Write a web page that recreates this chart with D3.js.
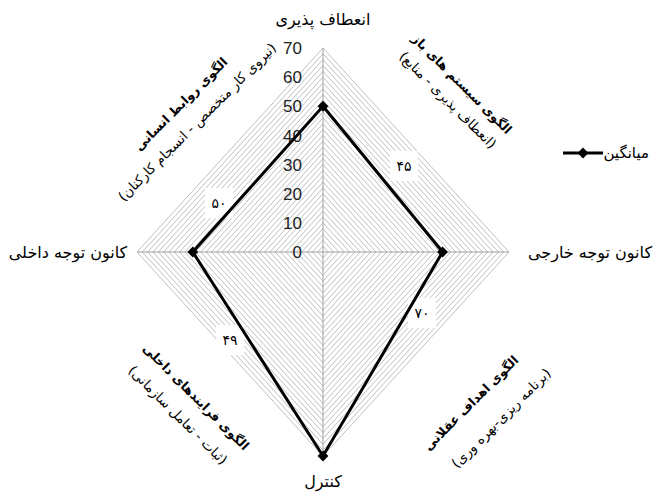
<!DOCTYPE html>
<html>
<head>
<meta charset="utf-8">
<script src="https://cdn.jsdelivr.net/npm/d3@7"></script>
<style>
  html, body { margin: 0; padding: 0; background: #fff; }
  svg { display: block; }
</style>
</head>
<body>
<svg id="chart" width="660" height="493"></svg>
<script>
(function () {
  "use strict";

  // data
  const axisNames = ["انعطاف پذیری", "کانون توجه خارجی", "کنترل", "کانون توجه داخلی"];
  const meanValues = [50, 45, 70, 49];
  const tickValues = [0, 10, 20, 30, 40, 50, 60, 70];
  const gridStep = 2;
  const seriesName = "میانگین";
  const quadTitles = ["الگوی سیستم های باز", "الگوی اهداف عقلانی", "الگوی فرایندهای داخلی", "الگوی روابط انسانی"];
  const quadSubs = ["(انعطاف پذیری - منابع)", "(برنامه ریزی-بهره وری)", "(ثبات - تعامل سازمانی)", "(نیروی کار متخصص - انسجام کارکنان)"];
  const quadScores = ["۴۵", "۷۰", "۴۹", "۵۰"];

  // layout
  const cx = 323, cy = 252;
  const rx = d3.scaleLinear().domain([0, 70]).range([0, 186]);
  const ry = d3.scaleLinear().domain([0, 70]).range([0, 204]);
  const dirs = [[0, -1], [1, 0], [0, 1], [-1, 0]];
  const quadLayout = [
    { t: [462, 84], s: [448, 100], rot: 45, box: [404, 166] },
    { t: [471, 403], s: [501, 418], rot: -45, box: [422, 313] },
    { t: [196, 397], s: [178, 415], rot: 45, box: [230, 340] },
    { t: [181, 104], s: [197, 122], rot: -45, box: [219, 203] },
  ];

  const svg = d3.select("#chart");
  const arFont = "'DejaVu Sans', sans-serif";

  function pt(v, i) {
    return [cx + dirs[i][0] * rx(v), cy + dirs[i][1] * ry(v)];
  }

  // concentric diamond grid
  const gridVals = d3.range(gridStep, 70 + 0.001, gridStep);
  const line = d3.line();
  svg.append("g")
    .selectAll("path")
    .data(gridVals)
    .enter()
    .append("path")
    .attr("d", (v) => line(dirs.map((d, i) => pt(v, i))) + "Z")
    .attr("fill", "none")
    .attr("stroke", "#b8b8b8")
    .attr("stroke-width", 0.9);

  // spokes
  svg.append("g")
    .selectAll("line")
    .data(dirs)
    .enter()
    .append("line")
    .attr("x1", cx).attr("y1", cy)
    .attr("x2", (d, i) => pt(70, i)[0])
    .attr("y2", (d, i) => pt(70, i)[1])
    .attr("stroke", "#a0a0a0")
    .attr("stroke-width", 1);

  // tick labels on the vertical axis
  svg.append("g")
    .selectAll("text")
    .data(tickValues)
    .enter()
    .append("text")
    .attr("x", cx - 21)
    .attr("y", (v) => cy - ry(v))
    .attr("dy", "0.36em")
    .attr("text-anchor", "end")
    .attr("font-family", "'Liberation Sans', Arial, sans-serif")
    .attr("font-size", 17)
    .attr("fill", "#222")
    .text((v) => v);

  // score boxes
  const scoreG = svg.append("g");
  quadScores.forEach((s, i) => {
    const b = quadLayout[i].box;
    scoreG.append("rect")
      .attr("x", b[0] - 14).attr("y", b[1] - 15)
      .attr("width", 28).attr("height", 30)
      .attr("fill", "#fff");
    scoreG.append("text")
      .attr("x", b[0]).attr("y", b[1])
      .attr("dy", "0.35em")
      .attr("text-anchor", "middle")
      .attr("font-family", arFont)
      .attr("font-size", 14)
      .attr("fill", "#000")
      .text(s);
  });

  // data series
  const pts = meanValues.map((v, i) => pt(v, i));
  svg.append("path")
    .attr("d", line(pts) + "Z")
    .attr("fill", "none")
    .attr("stroke", "#000")
    .attr("stroke-width", 3)
    .attr("stroke-linejoin", "miter");

  const diamond = d3.symbol().type(d3.symbolDiamond2).size(75);
  svg.append("g")
    .selectAll("path")
    .data(pts)
    .enter()
    .append("path")
    .attr("transform", (p) => `translate(${p[0]},${p[1]})`)
    .attr("d", diamond)
    .attr("fill", "#000");

  // axis names
  const namePos = [[cx, 19], [590, 252], [cx, 481], [68, 252]];
  svg.append("g")
    .selectAll("text")
    .data(axisNames)
    .enter()
    .append("text")
    .attr("x", (d, i) => namePos[i][0])
    .attr("y", (d, i) => namePos[i][1])
    .attr("dy", "0.35em")
    .attr("text-anchor", "middle")
    .attr("font-family", arFont)
    .attr("font-size", 16)
    .attr("fill", "#000")
    .text((d) => d);

  // quadrant titles
  const qG = svg.append("g");
  quadTitles.forEach((t, i) => {
    const L = quadLayout[i];
    qG.append("text")
      .attr("transform", `translate(${L.t[0]},${L.t[1]}) rotate(${L.rot})`)
      .attr("dy", "0.35em")
      .attr("text-anchor", "middle")
      .attr("font-family", arFont)
      .attr("font-weight", "bold")
      .attr("font-size", 12.5)
      .attr("fill", "#000")
      .text(t);
    qG.append("text")
      .attr("transform", `translate(${L.s[0]},${L.s[1]}) rotate(${L.rot})`)
      .attr("dy", "0.35em")
      .attr("text-anchor", "middle")
      .attr("font-family", arFont)
      .attr("font-size", 13.5)
      .attr("fill", "#000")
      .text(quadSubs[i]);
  });

  // legend
  const lg = svg.append("g").attr("transform", "translate(563,153)");
  lg.append("line")
    .attr("x1", 0).attr("x2", 40)
    .attr("stroke", "#000").attr("stroke-width", 3);
  lg.append("path")
    .attr("transform", "translate(20,0)")
    .attr("d", diamond)
    .attr("fill", "#000");
  lg.append("text")
    .attr("x", 86).attr("y", 0)
    .attr("dy", "0.35em")
    .attr("text-anchor", "end")
    .attr("font-family", arFont)
    .attr("font-size", 15)
    .attr("fill", "#000")
    .text(seriesName);
})();
</script>
</body>
</html>
